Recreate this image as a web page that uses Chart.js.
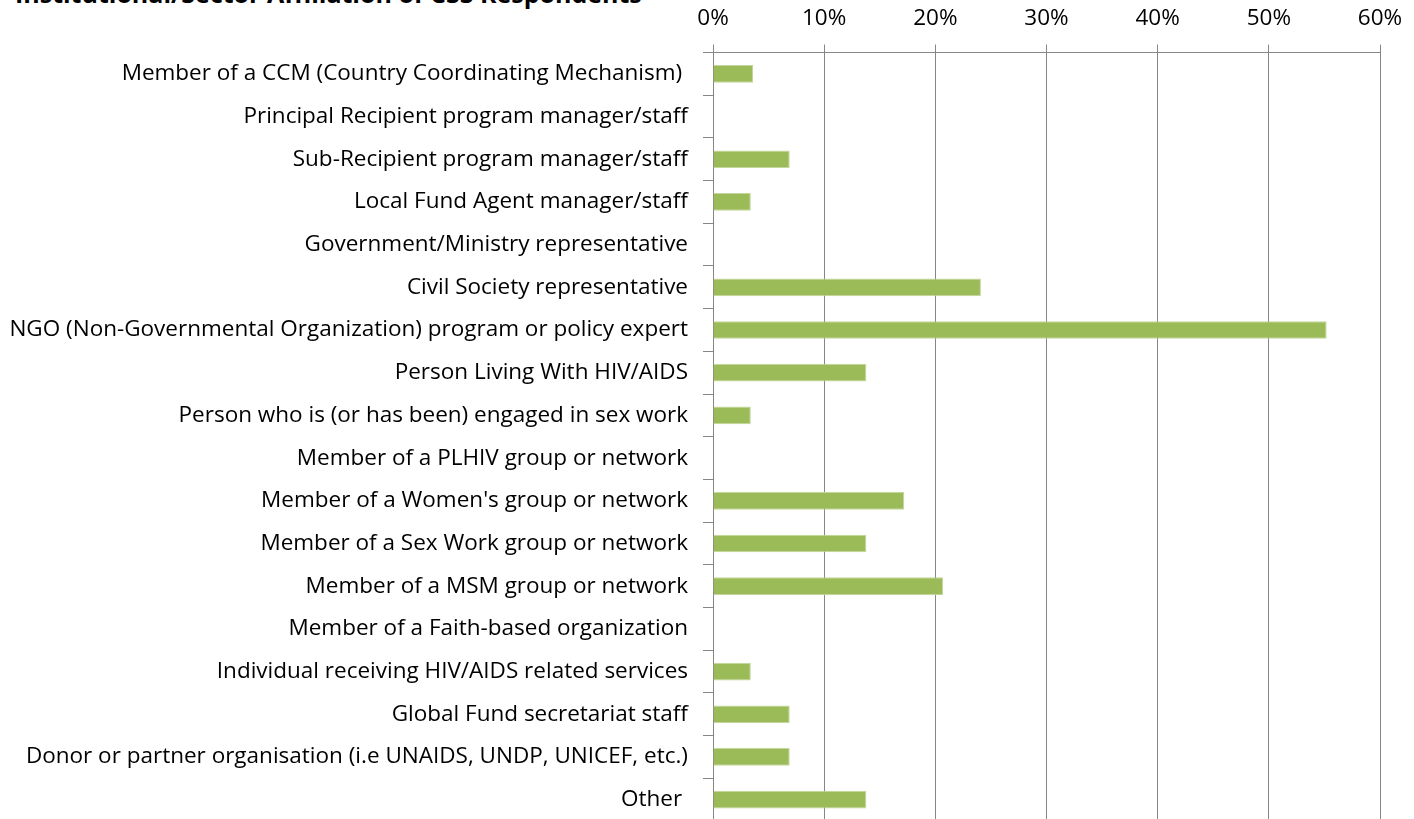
<!DOCTYPE html>
<html>
<head>
<meta charset="utf-8">
<script src="https://cdn.jsdelivr.net/npm/chart.js@4.4.1/dist/chart.umd.min.js"></script>
<style>
  html, body { margin: 0; padding: 0; background: #fff; overflow: hidden; }
  #wrap { position: relative; width: 1414px; height: 819px; overflow: hidden; }
  #title {
    position: absolute; left: 15px; top: -24px;
    font: bold 25px "Open Sans", sans-serif; color: #000; white-space: nowrap;
  }
  canvas { position: absolute; left: 0; top: 0; }
</style>
</head>
<body>
<div id="wrap">
  <div id="title">Institutional/Sector Affiliation of CSS Respondents</div>
  <canvas id="chart" width="1414" height="821"></canvas>
</div>
<script>
const categories = [
  'Member of a CCM (Country Coordinating Mechanism) ',
  'Principal Recipient program manager/staff',
  'Sub-Recipient program manager/staff',
  'Local Fund Agent manager/staff',
  'Government/Ministry representative',
  'Civil Society representative',
  'NGO (Non-Governmental Organization) program or policy expert',
  'Person Living With HIV/AIDS',
  'Person who is (or has been) engaged in sex work',
  'Member of a PLHIV group or network',
  "Member of a Women's group or network",
  'Member of a Sex Work group or network',
  'Member of a MSM group or network',
  'Member of a Faith-based organization',
  'Individual receiving HIV/AIDS related services',
  'Global Fund secretariat staff',
  'Donor or partner organisation (i.e UNAIDS, UNDP, UNICEF, etc.)',
  'Other '
];

// share of respondents, %
const shares = [3.6, 0, 6.9, 3.4, 0, 24.1, 55.2, 13.8, 3.4, 0, 17.2, 13.8, 20.7, 0, 3.4, 6.9, 6.9, 13.8];

const xTicks = [0, 10, 20, 30, 40, 50, 60];

const gridColor = '#868686';
const labelFont = { family: '"Open Sans", sans-serif', size: 22.5 };

new Chart(document.getElementById('chart'), {
  type: 'bar',
  data: {
    labels: categories,
    datasets: [{
      data: shares,
      backgroundColor: '#9bbb59',
      borderColor: '#c3d69b',
      borderWidth: 1,
      categoryPercentage: 1,
      barPercentage: 0.415
    }]
  },
  options: {
    indexAxis: 'y',
    responsive: false,
    animation: false,
    layout: { padding: { left: 0, right: 34, top: 0, bottom: 0 } },
    plugins: { legend: { display: false }, tooltip: { enabled: false } },
    scales: {
      x: {
        position: 'top',
        min: 0,
        max: 60,
        afterBuildTicks: s => { s.ticks = xTicks.map(v => ({ value: v })); },
        afterFit: s => { s.height = 52.5; s.paddingLeft = 0; s.paddingRight = 0; },
        ticks: {
          color: '#000',
          font: labelFont,
          padding: 12,
          callback: v => v + '%'
        },
        grid: { color: gridColor, tickLength: 8, tickColor: gridColor },
        border: { color: gridColor }
      },
      y: {
        afterFit: s => { s.width = 713; s.paddingTop = 0; s.paddingBottom = 0; },
        ticks: { color: '#000', font: labelFont, padding: 15, autoSkip: false },
        grid: { drawOnChartArea: false, tickLength: 10, tickColor: gridColor },
        border: { color: gridColor }
      }
    }
  }
});
</script>
</body>
</html>
